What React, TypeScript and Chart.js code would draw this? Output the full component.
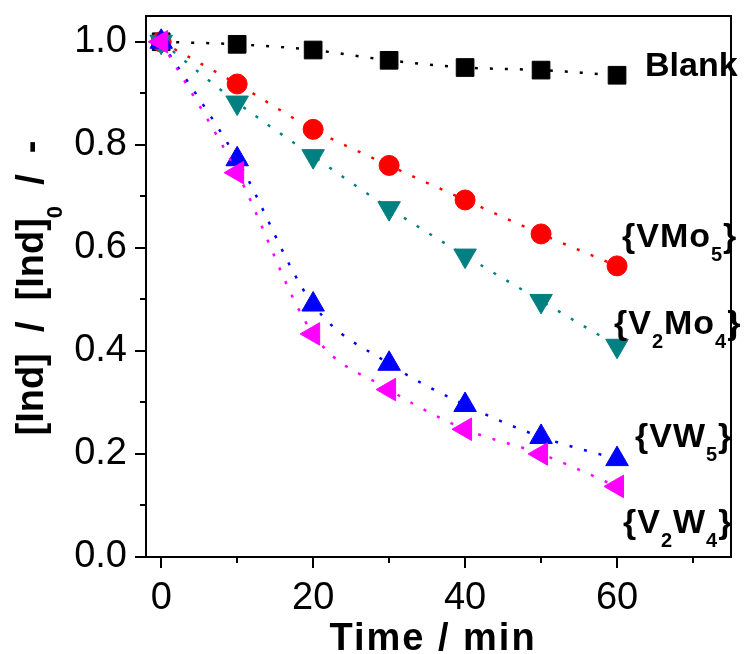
import React, { useEffect, useRef } from 'react';
import { Chart, registerables } from 'chart.js';
Chart.register(...registerables);

const FONT = "'Liberation Sans', Arial, Helvetica, sans-serif";

const times = [0, 10, 20, 30, 40, 50, 60];
const blank = [1.0, 0.995, 0.984, 0.964, 0.95, 0.945, 0.935];
const vmo5 = [1.0, 0.918, 0.83, 0.76, 0.693, 0.627, 0.565];
const v2mo4 = [1.0, 0.882, 0.778, 0.677, 0.585, 0.497, 0.41];
const vw5 = [1.0, 0.772, 0.49, 0.375, 0.295, 0.233, 0.19];
const v2w4 = [1.0, 0.746, 0.433, 0.325, 0.248, 0.2, 0.137];

const xMajor = [0, 20, 40, 60];
const xMinor = [10, 30, 50, 70];
const yMajor = [0, 0.2, 0.4, 0.6, 0.8, 1.0];
const yMinor = [0.1, 0.3, 0.5, 0.7, 0.9];

type Part = [string, boolean];

function drawRich(ctx: CanvasRenderingContext2D, x: number, y: number, parts: Part[], size: number, subSize: number, subDrop: number, center = false, spacing = 0) {
  const mainFont = `bold ${size}px ${FONT}`;
  const subFont = `bold ${subSize}px ${FONT}`;
  (ctx as any).letterSpacing = `${spacing}px`;
  let total = 0;
  for (const [t, sub] of parts) {
    ctx.font = sub ? subFont : mainFont;
    total += ctx.measureText(t).width;
  }
  let cx = center ? x - total / 2 : x;
  ctx.textAlign = 'left';
  ctx.textBaseline = 'alphabetic';
  ctx.fillStyle = '#000';
  for (const [t, sub] of parts) {
    ctx.font = sub ? subFont : mainFont;
    ctx.fillText(t, cx, sub ? y + subDrop : y);
    cx += ctx.measureText(t).width;
  }
  (ctx as any).letterSpacing = '0px';
}

const decorPlugin = {
  id: 'decor',
  afterDraw(chart: any) {
    const ctx: CanvasRenderingContext2D = chart.ctx;
    const xs = chart.scales.x;
    const ys = chart.scales.y;
    const a = chart.chartArea;
    ctx.save();
    ctx.strokeStyle = '#000';
    ctx.lineWidth = 2;
    ctx.strokeRect(a.left, a.top, a.right - a.left, a.bottom - a.top);
    ctx.beginPath();
    for (const v of xMajor) { const p = Math.round(xs.getPixelForValue(v)); ctx.moveTo(p, a.bottom); ctx.lineTo(p, a.bottom + 11); }
    for (const v of xMinor) { const p = Math.round(xs.getPixelForValue(v)); ctx.moveTo(p, a.bottom); ctx.lineTo(p, a.bottom + 6); }
    for (const v of yMajor) { const p = Math.round(ys.getPixelForValue(v)); ctx.moveTo(a.left, p); ctx.lineTo(a.left - 11, p); }
    for (const v of yMinor) { const p = Math.round(ys.getPixelForValue(v)); ctx.moveTo(a.left, p); ctx.lineTo(a.left - 6, p); }
    ctx.stroke();

    // series labels
    drawRich(ctx, 645, 76, [['Blank', false]], 34, 20, 14);
    drawRich(ctx, 622, 247, [['{VMo', false], ['5', true], ['}', false]], 34, 20, 14, false, 1);
    drawRich(ctx, 614, 334, [['{V', false], ['2', true], ['Mo', false], ['4', true], ['}', false]], 34, 20, 14, false, 1);
    drawRich(ctx, 635, 447, [['{VW', false], ['5', true], ['}', false]], 34, 20, 14, false, 1);
    drawRich(ctx, 623, 533, [['{V', false], ['2', true], ['W', false], ['4', true], ['}', false]], 34, 20, 14, false, 1);

    // axis titles
    drawRich(ctx, 433, 650, [['Time / min', false]], 38, 22, 16, true, 2);
    ctx.save();
    ctx.translate(43, 288);
    ctx.rotate(-Math.PI / 2);
    drawRich(ctx, 0, 0, [['[Ind]  /  [Ind]', false], ['0', true], ['  /  -', false]], 38, 22, 19, true);
    ctx.restore();
    ctx.restore();
  },
};

function series(vals: number[], color: string, style: string, rotation: number, radius: number) {
  return {
    data: times.map((t, i) => ({ x: t, y: vals[i] })),
    borderColor: color,
    backgroundColor: color,
    pointBackgroundColor: color,
    pointBorderColor: color,
    pointBorderWidth: 1,
    pointStyle: style,
    rotation,
    pointRadius: radius,
    pointHoverRadius: radius,
    borderWidth: 2.5,
    borderDash: [3, 12],
    cubicInterpolationMode: 'monotone',
    showLine: true,
    fill: false,
  };
}

export default function App() {
  const ref = useRef<HTMLCanvasElement>(null);
  useEffect(() => {
    const chart = new Chart(ref.current!, {
      type: 'scatter',
      data: {
        datasets: [
          series(v2w4, '#ff00ff', 'triangle', -90, 13),
          series(vw5, '#0000ff', 'triangle', 0, 13),
          series(v2mo4, '#008080', 'triangle', 180, 13),
          series(vmo5, '#ff0000', 'circle', 0, 10),
          series(blank, '#000000', 'rect', 0, 12.5),
        ] as any,
      },
      options: {
        responsive: false,
        animation: false,
        events: [],
        layout: { padding: { top: 16, right: -1, left: 0, bottom: 0 } },
        plugins: { legend: { display: false }, tooltip: { enabled: false } },
        scales: {
          x: {
            type: 'linear',
            min: -2,
            max: 75,
            afterBuildTicks: (s: any) => { s.ticks = xMajor.map((v) => ({ value: v })); },
            afterFit: (s: any) => { s.height = 97; s.paddingLeft = 0; s.paddingRight = 0; },
            grid: { display: false, drawTicks: false },
            border: { display: false },
            ticks: { font: { size: 38, family: FONT }, color: '#000', padding: 19, maxRotation: 0, autoSkip: false },
          },
          y: {
            type: 'linear',
            min: 0,
            max: 1.05,
            afterBuildTicks: (s: any) => { s.ticks = yMajor.map((v) => ({ value: v })); },
            afterFit: (s: any) => { s.width = 146; s.paddingTop = 0; s.paddingBottom = 0; },
            grid: { display: false, drawTicks: false },
            border: { display: false },
            ticks: { font: { size: 38, family: FONT }, color: '#000', padding: 19, autoSkip: false, callback: (v: any) => Number(v).toFixed(1) },
          },
        },
      } as any,
      plugins: [decorPlugin],
    });
    return () => chart.destroy();
  }, []);
  return (
    <div style={{ position: 'absolute', left: 0, top: 0, width: 745, height: 654, background: '#fff' }}>
      <canvas ref={ref} width={745} height={654} style={{ width: 745, height: 654 }} />
    </div>
  );
}
